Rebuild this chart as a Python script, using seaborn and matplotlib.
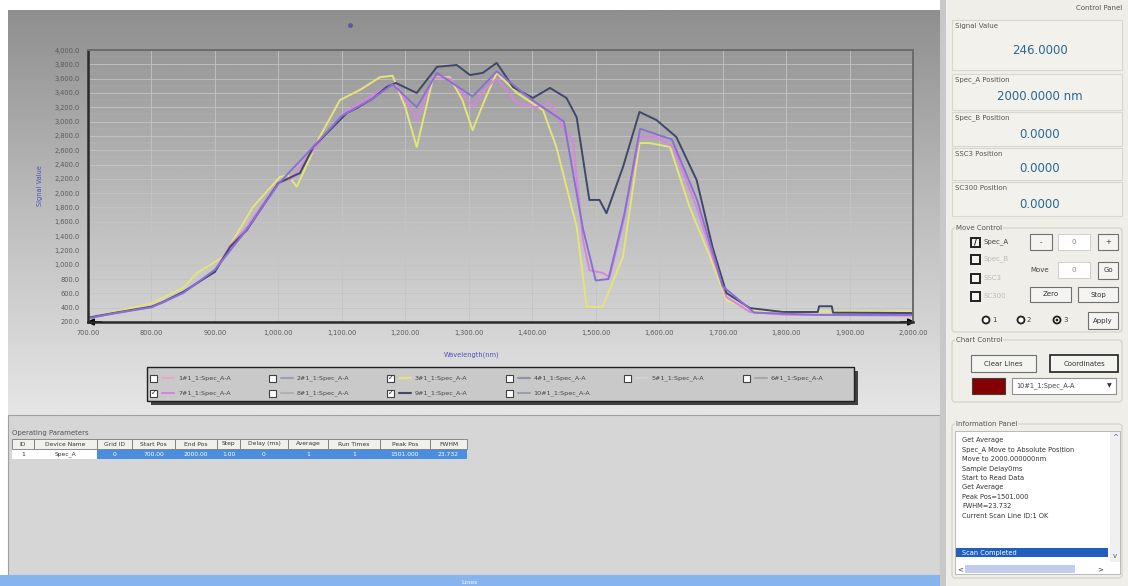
import numpy as np
import pandas as pd
import matplotlib
matplotlib.use('Agg')
import matplotlib.pyplot as plt
import seaborn as sns
from matplotlib.patches import Rectangle, FancyBboxPatch, Circle
from matplotlib.colors import LinearSegmentedColormap
from matplotlib.ticker import FuncFormatter

# spectra (wavelength nm / signal value)
dark_x = [700, 740, 770, 800, 818, 850, 872, 900, 924, 950, 982, 1000, 1020, 1034, 1055, 1086, 1108, 1124, 1150,
          1170, 1185, 1218, 1250, 1281, 1302, 1322, 1344, 1370, 1401, 1428, 1454, 1470, 1490, 1506, 1517, 1543,
          1569, 1596, 1627, 1659, 1684, 1706, 1743, 1795, 1850, 1852, 1872, 1874, 1900, 2000]
dark_y = [260, 325, 370, 414, 480, 620, 745, 900, 1250, 1480, 1905, 2140, 2225, 2280, 2645, 2925, 3120, 3190, 3330,
          3480, 3540, 3400, 3765, 3790, 3650, 3680, 3820, 3480, 3330, 3470, 3330, 3060, 1905, 1905, 1720, 2365,
          3135, 3020, 2785, 2185, 1250, 605, 395, 340, 340, 420, 420, 330, 330, 325]

yellow_x = [700, 750, 800, 850, 872, 913, 960, 1002, 1015, 1029, 1065, 1097, 1130, 1160, 1180, 1200, 1218, 1244,
            1270, 1290, 1306, 1325, 1344, 1376, 1417, 1438, 1470, 1486, 1511, 1543, 1569, 1585, 1617, 1648, 1680,
            1706, 1743, 1800, 2000]
yellow_y = [250, 360, 460, 680, 885, 1110, 1807, 2225, 2250, 2090, 2785, 3300, 3450, 3620, 3640, 3200, 2645, 3620,
            3620, 3300, 2880, 3300, 3680, 3400, 3160, 2645, 1530, 410, 410, 1110, 2700, 2700, 2645, 1805, 1110,
            505, 370, 345, 345]

magenta_x = [700, 740, 800, 818, 850, 872, 900, 924, 950, 982, 1000, 1020, 1055, 1086, 1108, 1140, 1170, 1185,
             1200, 1218, 1244, 1270, 1290, 1306, 1325, 1344, 1376, 1405, 1428, 1448, 1464, 1480, 1490, 1511, 1522,
             1543, 1569, 1596, 1622, 1659, 1684, 1706, 1743, 1800, 2000]
magenta_y = [255, 315, 410, 470, 610, 740, 920, 1270, 1520, 1930, 2150, 2200, 2600, 2950, 3150, 3320, 3480, 3540,
             3300, 3020, 3620, 3600, 3400, 3200, 3450, 3600, 3260, 3200, 3260, 2925, 2745, 1345, 925, 885, 830,
             1580, 2785, 2785, 2645, 1805, 1110, 550, 340, 300, 290]

purple_x = [700, 740, 800, 850, 900, 950, 1000, 1050, 1100, 1150, 1180, 1218, 1250, 1306, 1344, 1400, 1450, 1480,
            1500, 1520, 1545, 1570, 1620, 1660, 1700, 1750, 1850, 2000]
purple_y = [250, 320, 405, 605, 930, 1490, 2130, 2600, 3080, 3330, 3520, 3200, 3680, 3350, 3700, 3300, 3000, 1500,
            780, 800, 1700, 2900, 2750, 1900, 700, 330, 300, 300]

series_colors = {'3#1': '#e4e47a', '7#1': '#d884e0', '9#1': '#3f4868', '1#1': '#8a70d4'}

legend_labels = ['1#1_1:Spec_A-A', '2#1_1:Spec_A-A', '3#1_1:Spec_A-A', '4#1_1:Spec_A-A', '5#1_1:Spec_A-A',
                 '6#1_1:Spec_A-A', '7#1_1:Spec_A-A', '8#1_1:Spec_A-A', '9#1_1:Spec_A-A', '10#1_1:Spec_A-A']
legend_checked = [False, False, True, False, False, False, True, False, True, False]
legend_colors = ['#e6a6c6', '#9aa0b8', '#e4e47a', '#8c94ac', '#d0d0d0', '#a8a8a8', '#d884e0', '#b0b0b0',
                 '#3f4868', '#9aa0b0']

table_cols = ['ID', 'Device Name', 'Grid ID', 'Start Pos', 'End Pos', 'Step', 'Delay (ms)', 'Average',
              'Run Times', 'Peak Pos', 'FWHM']
table_row = ['1', 'Spec_A', '0', '700.00', '2000.00', '1.00', '0', '1', '1', '1501.000', '23.732']

info_lines = ['Get Average', 'Spec_A Move to Absolute Position', 'Move to 2000.000000nm', 'Sample Delay0ms',
              'Start to Read Data', 'Get Average', 'Peak Pos=1501.000', 'FWHM=23.732',
              'Current Scan Line ID:1 OK']

df = pd.concat([
    pd.DataFrame({'wl': yellow_x, 'sig': yellow_y, 'line': '3#1'}),
    pd.DataFrame({'wl': magenta_x, 'sig': magenta_y, 'line': '7#1'}),
    pd.DataFrame({'wl': dark_x, 'sig': dark_y, 'line': '9#1'}),
    pd.DataFrame({'wl': purple_x, 'sig': purple_y, 'line': '1#1'}),
])

sns.set_style('white')
plt.rcParams['font.family'] = ['DejaVu Sans']
W, H = 1128, 586
fig = plt.figure(figsize=(W / 100, H / 100), dpi=100)
fig.patch.set_facecolor('white')

# background "window" drawn in pixel coords
bg = fig.add_axes([0, 0, 1, 1])
grad = LinearSegmentedColormap.from_list('g', ['#8f8f8f', '#bdbdbd', '#e6e6e6'])
bg.imshow(np.linspace(0, 1, 256).reshape(-1, 1), extent=[8, 940, 415, 10], cmap=grad, aspect='auto')
bg.add_patch(Rectangle((8, 415), 932, 160, fc='#d6d6d6', ec='#a0a0a0', lw=0.8))
bg.add_patch(Rectangle((0, 575), 940, 11, fc='#86b4ee', ec='none'))
bg.add_patch(Rectangle((940, 0), 6, H, fc='#c8c8c8', ec='none'))
bg.add_patch(Rectangle((946, 0), W - 946, H, fc='#efeee8', ec='none'))
bg.plot([350], [25], marker='o', ms=2.5, color='#5a5aa0')
bg.text(470, 582, 'Lines', fontsize=4.5, color='white', ha='center', va='center')

fs = 5


def button(x0, y0, x1, y1, text, strong=False):
    bg.add_patch(Rectangle((x0, y0), x1 - x0, y1 - y0, fc='#f4f4f0', ec='#202020' if strong else '#707070',
                           lw=1.2 if strong else 0.8))
    bg.text((x0 + x1) / 2, (y0 + y1) / 2, text, fontsize=fs, ha='center', va='center', color='#333')


def entry(x0, y0, x1, y1, text):
    bg.add_patch(Rectangle((x0, y0), x1 - x0, y1 - y0, fc='white', ec='#c8c8c8', lw=0.6))
    bg.text((x0 + x1) / 2, (y0 + y1) / 2, text, fontsize=fs, ha='center', va='center', color='#888')


def group(x0, y0, x1, y1, title):
    bg.add_patch(FancyBboxPatch((x0, y0), x1 - x0, y1 - y0, boxstyle='round,pad=0,rounding_size=3',
                                fc='none', ec='#d2d2c8', lw=0.8))
    bg.text(x0 + 4, y0, title, fontsize=fs, va='center', color='#555',
            bbox=dict(fc='#efeee8', ec='none', pad=0.5))


def checkbox(x, y, checked, size=7):
    bg.add_patch(Rectangle((x, y - size / 2), size, size, fc='white', ec='#404040', lw=0.8))
    if checked:
        bg.text(x + size / 2, y, '✓', fontsize=5, ha='center', va='center', color='#222')


# ---------------- right control panel ----------------
bg.text(1122, 8, 'Control Panel', fontsize=fs, ha='right', va='center', color='#555')
values = [('Signal Value', '246.0000', 20, 70), ('Spec_A Position', '2000.0000 nm', 74, 110),
          ('Spec_B Position', '0.0000', 112, 146), ('SSC3 Position', '0.0000', 148, 180),
          ('SC300 Position', '0.0000', 182, 216)]
for lab, val, y0, y1 in values:
    bg.add_patch(Rectangle((952, y0), 170, y1 - y0, fc='#f2f1ec', ec='#d8d8d0', lw=0.8))
    bg.text(955, y0 + 6, lab, fontsize=fs, va='center', color='#555')
    bg.text(1040, (y0 + y1) / 2 + 5, val, fontsize=8.5, ha='center', va='center', color='#2a6896')

group(952, 228, 1122, 332, 'Move Control')
for (yy, lab, on, fade) in [(242, 'Spec_A', True, False), (259, 'Spec_B', False, True),
                            (278, 'SSC3', False, True), (296, 'SC300', False, True)]:
    bg.add_patch(Rectangle((971, yy - 4.5), 9, 9, fc='#f4f4f0', ec='#202020', lw=1.4))
    if on:
        bg.text(975.5, yy, '/', fontsize=6, ha='center', va='center', color='#111', fontweight='bold')
    bg.text(983, yy, lab, fontsize=fs, va='center', color='#bbb' if fade else '#444')
button(1030, 234, 1052, 250, '-')
entry(1058, 234, 1090, 250, '0')
button(1098, 234, 1118, 250, '+')
bg.text(1030, 270, 'Move', fontsize=fs, va='center', color='#444')
entry(1058, 262, 1090, 278, '0')
button(1098, 262, 1118, 279, 'Go')
button(1030, 287, 1071, 302, 'Zero')
button(1078, 287, 1118, 302, 'Stop')
for xx, lab, sel in [(986, '1', False), (1021, '2', False), (1057, '3', True)]:
    bg.add_patch(Circle((xx, 320), 3.5, fc='white', ec='#202020', lw=1.3))
    if sel:
        bg.add_patch(Circle((xx, 320), 1.4, fc='#202020', ec='none'))
    bg.text(xx + 6, 320, lab, fontsize=fs, va='center', color='#444')
button(1088, 312, 1118, 329, 'Apply')

group(952, 340, 1122, 402, 'Chart Control')
button(971, 355, 1036, 372, 'Clear Lines')
button(1050, 355, 1118, 372, 'Coordinates', strong=True)
bg.add_patch(Rectangle((972, 378), 33, 16, fc='#850000', ec='#404040', lw=0.8))
bg.add_patch(Rectangle((1012, 378), 104, 16, fc='white', ec='#909090', lw=0.8))
bg.text(1016, 386, legend_labels[-1], fontsize=4.8, va='center', color='#444')
bg.text(1109, 386, '▼', fontsize=4.5, ha='center', va='center', color='#333')

group(952, 424, 1122, 578, 'Information Panel')
bg.add_patch(Rectangle((955, 431), 165, 143, fc='white', ec='#b0b0b0', lw=0.6))
for i, line in enumerate(info_lines):
    bg.text(962, 440 + i * 9.5, line, fontsize=4.8, va='center', color='#333')
bg.add_patch(Rectangle((956, 548), 152, 9, fc='#1f5fbf', ec='none'))
bg.text(962, 552.5, 'Scan Completed', fontsize=4.8, va='center', color='white')
bg.add_patch(Rectangle((1110, 432), 10, 130, fc='#f0f0f0', ec='none'))
bg.text(1115, 437, '^', fontsize=5, ha='center', va='center', color='#3060a0')
bg.text(1115, 556, 'v', fontsize=5, ha='center', va='center', color='#3060a0')
bg.add_patch(Rectangle((965, 565), 110, 8, fc='#c4ccee', ec='none'))
bg.text(960, 569, '<', fontsize=5, ha='center', va='center', color='#333')
bg.text(1100, 569, '>', fontsize=5, ha='center', va='center', color='#333')

# ---------------- legend box ----------------
bg.add_patch(Rectangle((151, 371), 707, 34, fc='#404040', ec='none'))
bg.add_patch(Rectangle((147, 367), 707, 34, fc='#c9c9c9', ec='#202020', lw=1.0))
for i, lab in enumerate(legend_labels):
    row, col = divmod(i, 6)
    x0 = 150 + col * 118.5
    y0 = 378 + row * 15
    checkbox(x0, y0, legend_checked[i])
    bg.plot([x0 + 12, x0 + 24], [y0, y0], color=legend_colors[i], lw=1.5)
    bg.text(x0 + 28, y0, lab, fontsize=4.6, va='center', color='#444')

# ---------------- operating parameters table ----------------
bg.text(12, 433, 'Operating Parameters', fontsize=fs, va='center', color='#555')
col_edges = [12, 34, 97, 132, 175, 217, 240, 288, 328, 380, 430, 467]
bg.add_patch(Rectangle((97, 449), col_edges[-1] - 97, 10, fc='#4a8ee0', ec='none'))
bg.add_patch(Rectangle((34, 449), 63, 10, fc='white', ec='none'))
bg.add_patch(Rectangle((12, 449), 22, 10, fc='white', ec='none'))
for i, name in enumerate(table_cols):
    a, b = col_edges[i], col_edges[i + 1]
    bg.add_patch(Rectangle((a, 439), b - a, 10, fc='#f0f0ec', ec='#7a7a7a', lw=0.6))
    bg.text((a + b) / 2, 444, name, fontsize=4.3, ha='center', va='center', color='#333')
    bg.text((a + b) / 2, 454, table_row[i], fontsize=4.3, ha='center', va='center',
            color='#333' if i < 2 else 'white')

bg.set_xlim(0, W)
bg.set_ylim(H, 0)
bg.axis('off')

# ---------------- spectrum chart ----------------
ax = fig.add_axes([88 / W, 1 - 322 / H, 825 / W, 272 / H])
ax.patch.set_alpha(0)
sns.lineplot(data=df, x='wl', y='sig', hue='line', hue_order=['3#1', '7#1', '9#1', '1#1'],
             palette=series_colors, estimator=None, sort=False, legend=False, lw=1.4, ax=ax)
ax.set_xlim(700, 2000)
ax.set_ylim(200, 4000)
ax.set_xticks(range(700, 2001, 100))
ax.set_yticks(range(200, 4001, 200))
ax.set_yticks(range(300, 4000, 200), minor=True)
ax.grid(which='major', color='#c4c4c4', lw=0.6)
ax.grid(which='minor', axis='y', color='#cccccc', lw=0.3, ls=':')
ax.xaxis.set_major_formatter(FuncFormatter(lambda v, p: f'{v:,.2f}'))
ax.yaxis.set_major_formatter(FuncFormatter(lambda v, p: f'{v:,.1f}'))
ax.tick_params(which='both', length=0, labelsize=4.8, labelcolor='#5a5a5a', pad=6)
ax.set_xlabel('Wavelength(nm)', fontsize=4.8, color='#5050c0', labelpad=0)
ax.set_ylabel('Signal Value', fontsize=4.8, color='#5050c0', labelpad=8)
ax.xaxis.set_label_coords(0.465, -0.11)
for side in ['left', 'bottom']:
    ax.spines[side].set_color('#2a2a2a')
    ax.spines[side].set_linewidth(1.8)
for side in ['top', 'right']:
    ax.spines[side].set_color('#6a6a6a')
    ax.spines[side].set_linewidth(1.4)
    ax.spines[side].set_visible(True)

# arrowheads at both ends of the x axis
bg.annotate('', xy=(84, 322), xytext=(104, 322), arrowprops=dict(arrowstyle='-|>', color='black', lw=1.2))
bg.annotate('', xy=(918, 322), xytext=(898, 322), arrowprops=dict(arrowstyle='-|>', color='black', lw=1.2))

fig.savefig('out.png', dpi=100)
